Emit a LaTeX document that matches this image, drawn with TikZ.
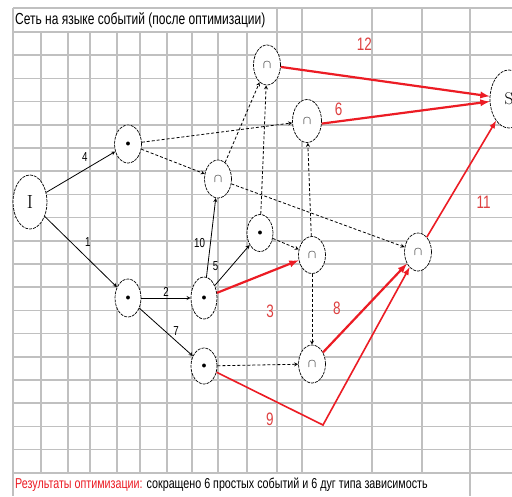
\documentclass[tikz,border=0pt]{standalone}
\usepackage{fontspec}
\usepackage{tikz}
\usetikzlibrary{shapes.geometric, arrows, positioning}
\newfontfamily\narrowfont{Liberation Sans}[FakeStretch=0.75]
\definecolor{gridgray}{RGB}{192,192,192}
\definecolor{critred}{RGB}{236,28,36}
\definecolor{labelred}{RGB}{222,64,64}
\tikzstyle{cell}   = [line width=1.6pt, draw=gridgray]
\tikzstyle{event}  = [ellipse, draw=black, line width=0.7pt, dash pattern=on 3pt off 1pt,
                      fill=white, minimum width=26pt, minimum height=38pt, inner sep=0pt]
\tikzstyle{arrow}  = [line width=0.8pt,->,>=stealth]
\tikzstyle{dep}    = [line width=0.8pt,dash pattern=on 3pt off 2pt,->,>=stealth]
\tikzstyle{crit}   = [line width=2.2pt,draw=critred,->,>=latex]
\tikzstyle{num}    = [font=\narrowfont\fontsize{13}{13}\selectfont, inner sep=1pt]
\tikzstyle{rednum} = [font=\narrowfont\fontsize{18}{18}\selectfont, text=labelred, inner sep=1pt]

\begin{document}
\begin{tikzpicture}[x=1pt,y=-1pt]
  \useasboundingbox (0,0) rectangle (512,496);
  \clip (0,0) rectangle (512,496);
  \fill[white] (0,0) rectangle (512,496);

  % table grid
  \foreach \x in {41,68,90,117,140,167,192,218,247}
    \draw[cell] (\x,32) -- (\x,473);
  \foreach \x in {13,277,302,372,422,470}
    \draw[cell] (\x,8) -- (\x,473);
  \draw[cell] (13,473) -- (13,496);
  \draw[cell] (470,473) -- (470,496);
  \draw[cell] (13,8) -- (512,8);
  \foreach \i in {0,...,19}
    \draw[cell] (13,32+23.2*\i) -- (512,32+23.2*\i);

  \node[anchor=west, inner sep=0pt, font=\narrowfont\fontsize{16}{16}\selectfont] (title) at (15,20)
    {Сеть на языке событий (после оптимизации)};
  \node[anchor=west, inner sep=0pt, font=\narrowfont\fontsize{14.3}{14.3}\selectfont] (result) at (15,485)
    {\textcolor{critred}{Результаты оптимизации:} сокращено 6 простых событий и 6 дуг типа зависимость};

  % events
  \node (init)  [event, minimum width=34pt, minimum height=54pt, font=\fontsize{19}{19}\selectfont] at (30,202) {I};
  \node (ev4)   [event, minimum width=27pt] at (128,144) {$\bullet$};
  \node (ev1)   [event] at (128,298) {$\bullet$};
  \node (ev2)   [event, minimum height=42pt] at (204,298) {$\bullet$};
  \node (ev7)   [event, minimum height=36pt] at (204,366) {$\bullet$};
  \node (ev5)   [event, minimum height=37pt] at (260,233) {$\bullet$};
  \node (and10) [event, minimum width=27pt] at (218,179) {\large$\cap$};
  \node (and12) [event, minimum width=27pt, minimum height=40pt] at (267,65) {\large$\cap$};
  \node (and6)  [event, minimum width=29pt, minimum height=43pt] at (307,121) {\large$\cap$};
  \node (and3)  [event, minimum width=27pt, minimum height=37pt] at (312,255) {\large$\cap$};
  \node (and8)  [event, minimum width=27pt] at (312,364) {\large$\cap$};
  \node (and11) [event, minimum width=27pt] at (418,252) {\large$\cap$};
  \node (final) [event, minimum width=38pt, minimum height=58pt, font=\fontsize{17}{17}\selectfont] at (509,99) {S};
  \coordinate (bend9) at (323,425);

  % simple arcs
  \draw[arrow] (init) -- node[num, xshift=4pt, yshift=15pt] {4} (ev4);
  \draw[arrow] (init) -- node[num, xshift=7pt, yshift=10pt] {1} (ev1);
  \draw[arrow] (ev1)  -- node[num, above] {2} (ev2);
  \draw[arrow] (ev1)  -- node[num, xshift=10pt, yshift=1pt] {7} (ev7);
  \draw[arrow] (ev2)  -- node[num, pos=0.45, xshift=-11pt, yshift=-2pt] {10} (and10);
  \draw[arrow] (ev2)  -- node[num, pos=0.45, xshift=-15pt, yshift=1pt] {5} (ev5);

  % dependencies
  \draw[dep] (ev4)   -- (and6);
  \draw[dep] (ev4)   -- (and10);
  \draw[dep] (and10) -- (and12);
  \draw[dep] (ev5)   -- (and12);
  \draw[dep] (and10) -- (and11);
  \draw[dep] (ev5)   -- (and3);
  \draw[dep] (and3)  -- (and6);
  \draw[dep] (and3)  -- (and8);
  \draw[dep] (ev7)   -- (and8);

  % critical arcs
  \draw[crit] (ev2)   -- node[rednum, pos=0.6, xshift=4pt, yshift=-38pt] {3} (and3);
  \draw[crit] (and8)  -- node[rednum, pos=0.5, xshift=-28pt] {8} (and11);
  \draw[crit, line width=1.6pt] (ev7) -- node[rednum, pos=0.5, yshift=-21pt] {9} (bend9) -- (and11);
  \draw[crit, line width=1.6pt] (and11) -- node[rednum, pos=0.3, xshift=36pt] {11} (final);
  \draw[crit] (and6.-10)  -- node[rednum, pos=0.1, yshift=12pt] {6} (final);
  \draw[crit] (and12) -- node[rednum, pos=0.4, yshift=34pt] {12} (final);
\end{tikzpicture}
\end{document}
